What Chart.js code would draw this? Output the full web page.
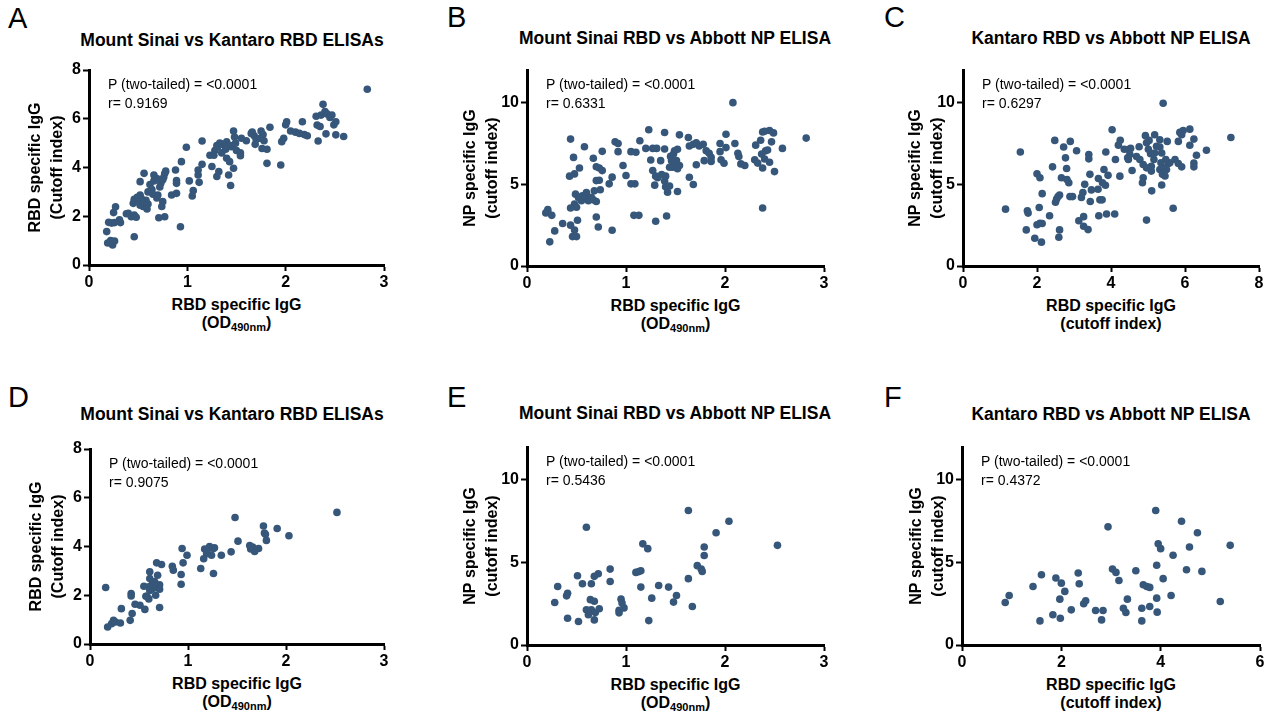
<!DOCTYPE html>
<html>
<head>
<meta charset="utf-8">
<script src="https://cdn.jsdelivr.net/npm/chart.js@4.4.0/dist/chart.umd.min.js"></script>
<style>
  body { margin: 0; background: #fff; width: 1267px; height: 722px; position: relative; overflow: hidden;
         font-family: "Liberation Sans", Arial, sans-serif; color: #000; }
  .abs { position: absolute; white-space: nowrap; }
  .letter { font-size: 29px; line-height: 29px; }
  .title { font-size: 17.5px; font-weight: bold; transform: translate(-50%, -50%); }
  .note { font-size: 14px; line-height: 19px; }
  .xt { font-size: 16px; font-weight: bold; text-align: center; transform: translateX(-50%); line-height: 18px; }
  .xt sub { font-size: 11px; vertical-align: -3px; }
  canvas { position: absolute; }
</style>
</head>
<body>
<script>
// A: Mount Sinai OD (x) vs Kantaro cutoff index (y), full cohort
const sinaiKantaroAll = [
  [0.18,1.37],[0.19,0.90],[0.22,1.00],[0.24,0.82],[0.26,0.98],[0.23,0.93],
  [0.20,1.75],[0.23,1.72],[0.26,1.74],[0.31,1.85],[0.32,1.74],[0.25,2.15],[0.27,2.39],
  [0.38,2.10],[0.40,2.12],[0.43,1.98],[0.46,2.05],[0.48,1.96],[0.46,1.16],
  [0.45,2.53],[0.46,2.70],[0.49,2.78],[0.51,2.60],[0.52,2.87],[0.53,2.75],[0.52,3.42],[0.56,3.76],
  [0.52,2.45],[0.55,2.40],[0.58,2.65],[0.60,2.50],[0.59,2.30],
  [0.60,3.00],[0.62,3.30],[0.64,3.10],[0.65,2.90],[0.66,3.45],[0.69,3.55],[0.66,3.69],
  [0.70,2.87],[0.69,2.75],[0.71,1.94],[0.77,1.98],[0.75,2.60],[0.74,2.40],
  [0.72,3.20],[0.73,3.35],[0.75,3.50],[0.76,3.60],[0.77,3.75],[0.78,3.85],
  [0.84,2.87],[0.89,2.94],[0.88,3.90],[0.89,3.46],[0.89,3.35],
  [0.93,1.57],[0.94,4.24],[0.99,4.83],[1.02,3.45],[1.06,3.05],[1.05,2.83],
  [1.11,3.90],[1.11,3.69],[1.12,3.39],[1.15,4.13],[1.15,5.09],
  [1.23,4.50],[1.27,4.50],[1.25,4.04],[1.32,3.83],[1.30,3.63],
  [1.28,4.70],[1.30,4.90],[1.33,5.00],[1.35,4.60],[1.31,4.85],
  [1.36,4.95],[1.40,5.05],[1.43,4.90],[1.45,4.85],[1.39,4.75],
  [1.40,4.38],[1.43,4.24],[1.42,3.69],[1.44,3.26],[1.47,3.97],
  [1.47,5.50],[1.48,5.25],[1.49,5.00],[1.44,4.90],[1.50,4.70],[1.54,4.60],[1.54,4.48],
  [1.55,5.20],[1.60,5.10],[1.65,5.40],[1.66,5.45],[1.68,5.30],[1.70,5.15],[1.69,4.95],
  [1.75,5.50],[1.77,5.35],[1.74,5.20],[1.78,5.10],[1.76,4.78],[1.81,4.75],
  [1.84,5.65],[1.81,4.17],[1.95,4.10],
  [1.96,5.06],[1.98,5.20],[2.00,5.75],[2.01,5.88],
  [2.05,5.50],[2.10,5.45],[2.14,5.40],[2.19,5.35],[2.22,5.30],[2.17,5.88],
  [2.32,5.74],[2.35,5.68],[2.33,5.09],
  [2.31,6.10],[2.36,6.15],[2.38,6.59],[2.40,6.30],[2.42,6.20],[2.45,6.05],[2.47,6.15],
  [2.49,5.75],[2.51,5.88],[2.41,5.38],[2.51,5.34],[2.59,5.27],[2.83,7.21]
];

// B: Mount Sinai OD (x) vs Abbott NP cutoff index (y), full cohort
const sinaiAbbottAll = [
  [2.82,7.83],[2.08,10.0],[2.38,3.55],[2.58,7.20],[2.50,5.78],
  [2.40,8.25],[2.45,8.30],[2.38,8.20],[2.49,8.15],[2.36,7.70],
  [2.31,7.40],[2.30,6.50],[2.33,6.30],[2.38,6.00],[2.40,6.55],[2.41,7.05],[2.45,6.35],[2.47,7.60],[2.43,7.10],[2.37,6.85],
  [2.10,7.50],[2.13,6.90],[2.14,6.70],[2.16,6.25],[2.20,6.15],
  [2.01,8.07],[1.99,6.29],[1.95,7.50],[1.95,7.00],[1.96,6.50],[2.01,7.25],
  [1.86,6.65],[1.86,6.40],[1.84,6.90],
  [1.79,6.45],[1.81,7.05],[1.78,7.45],[1.74,7.35],[1.71,7.55],[1.68,7.45],[1.64,7.35],
  [1.71,6.20],[1.63,7.87],[1.64,5.43],[1.68,4.99],
  [1.54,8.03],[1.48,6.85],[1.49,7.05],[1.52,7.15],[1.51,6.45],[1.49,6.25],[1.47,6.05],[1.52,5.95],[1.54,6.15],[1.44,6.05],[1.46,6.45],
  [1.52,4.56],[1.42,4.52],[1.40,4.85],[1.44,4.90],
  [1.39,8.17],[1.39,7.16],[1.40,5.50],[1.39,5.20],[1.36,5.60],[1.32,5.40],[1.30,5.50],[1.29,4.95],[1.27,5.84],
  [1.45,6.71],[1.35,6.45],[1.31,7.20],[1.27,7.20],[1.20,7.20],[1.25,6.49],[1.23,8.34],
  [1.30,2.74],[1.41,3.06],
  [1.14,7.67],[1.10,6.96],[1.05,7.00],[1.09,5.03],[1.05,5.03],[1.08,3.10],[1.13,3.10],
  [1.00,5.54],[0.97,6.15],[0.92,7.00],[0.89,7.60],[0.92,7.50],
  [0.86,5.44],[0.83,5.03],[0.86,2.19],
  [0.76,7.02],[0.76,5.84],[0.73,6.00],[0.70,6.08],[0.73,5.25],[0.70,5.23],[0.74,4.67],[0.70,3.00],[0.72,2.39],
  [0.68,4.60],[0.67,6.60],
  [0.70,3.95],[0.67,4.05],[0.65,4.20],[0.62,4.00],[0.60,4.50],[0.58,4.20],[0.56,4.30],[0.55,4.00],[0.52,4.20],[0.49,4.40],[0.48,3.80],[0.50,3.60],[0.53,4.20],
  [0.58,7.30],[0.53,6.00],[0.48,5.64],[0.43,5.50],[0.44,7.77],[0.47,6.65],[0.44,3.55],
  [0.51,2.80],[0.44,2.50],[0.48,2.20],[0.46,1.80],[0.50,1.80],
  [0.36,2.60],[0.28,2.15],[0.23,1.48],[0.19,3.25],[0.21,3.30],[0.25,3.10],[0.21,3.45]
];

// C: Kantaro cutoff index (x) vs Abbott NP cutoff index (y), full cohort
const kantaroAbbottAll = [
  [1.15,3.48],[1.55,6.98],[1.71,2.21],[1.74,3.38],[1.76,3.24],[1.94,1.70],[2.00,5.65],[2.08,5.40],
  [2.06,3.58],[2.00,2.53],[2.08,2.61],[2.14,2.60],[2.12,1.46],[2.14,4.43],[2.34,3.08],[2.42,6.07],
  [2.48,7.69],[2.50,3.90],[2.53,4.10],[2.57,4.25],[2.61,4.35],[2.61,2.21],[2.59,1.76],[2.66,5.40],
  [2.72,7.29],[2.77,6.62],[2.80,5.97],[2.81,5.30],[2.86,5.10],[2.89,4.25],[2.96,4.25],[2.90,7.63],
  [3.07,7.06],[3.13,2.77],[3.20,4.20],[3.24,4.50],[3.29,5.00],[3.26,3.02],[3.26,2.43],[3.38,2.23],
  [3.40,6.82],[3.40,6.56],[3.43,5.61],[3.44,3.95],[3.47,4.66],[3.65,4.70],[3.66,5.36],[3.77,5.10],
  [3.70,4.05],[3.76,4.05],[3.67,3.08],[3.81,5.91],[3.85,4.94],[3.88,3.18],[3.86,6.98],[3.92,5.55],
  [4.03,8.34],[4.10,3.18],[4.12,6.52],[4.20,7.40],[4.25,7.70],[4.24,5.50],[4.36,7.15],[4.47,7.13],
  [4.53,7.20],[4.51,6.82],[4.47,6.52],[4.45,6.62],[4.57,5.85],[4.69,6.70],[4.76,7.30],[4.85,5.10],
  [4.87,5.40],[4.93,7.98],[4.96,7.55],[5.03,7.69],[5.01,7.15],[5.07,6.88],[5.10,4.60],[5.09,6.11],
  [5.09,5.81],[5.16,6.52],[5.18,6.92],[5.23,7.33],[5.18,8.04],[5.32,7.73],[5.32,7.29],[5.37,6.92],
  [5.35,6.32],[5.32,5.91],[5.43,6.01],[5.39,5.61],[5.46,5.51],[5.50,5.91],[5.55,6.28],[5.48,6.52],
  [5.52,7.63],[5.59,6.32],[5.73,6.52],[5.82,6.28],[5.91,6.07],[5.37,4.96],[5.82,7.63],[5.91,8.04],
  [5.95,8.30],[6.13,8.38],[5.86,8.18],[4.78,6.52],[4.87,6.21],[4.96,6.01],[6.24,6.30],[6.24,6.07],
  [6.24,7.77],[6.13,7.39],[6.31,6.78],[6.58,7.09],[7.24,7.87],[5.41,9.96],[5.68,3.54],[4.96,2.81]
];

// D: Mount Sinai OD vs Kantaro cutoff index, subset
const sinaiKantaroSub = [
  [2.52,5.40],[2.03,4.44],[1.91,4.74],[1.77,4.84],[1.78,4.55],[1.79,4.50],[1.80,4.25],[1.72,3.92],
  [1.68,3.80],[1.66,3.98],[1.63,4.04],[1.64,3.90],[1.51,4.22],[1.48,5.19],[1.44,3.78],[1.34,3.64],
  [1.27,3.95],[1.24,3.64],[1.22,4.00],[1.17,3.90],[1.16,3.50],[1.19,3.70],[1.21,3.92],[1.26,3.92],
  [1.26,2.89],[1.13,3.10],[0.99,3.64],[0.94,3.92],[0.95,3.33],[0.84,3.19],[0.85,3.03],[0.93,2.85],[0.93,2.45],
  [0.73,3.26],[0.68,3.33],[0.69,2.82],[0.71,2.43],[0.65,2.55],[0.68,2.35],[0.71,2.25],[0.67,2.00],
  [0.63,2.42],[0.61,2.69],[0.66,2.55],[0.64,2.28],[0.60,2.35],[0.61,2.20],[0.58,1.96],[0.60,1.85],[0.71,1.50],
  [0.61,2.96],[0.55,2.37],[0.57,1.96],[0.56,1.42],[0.51,1.59],[0.46,1.63],[0.42,2.07],[0.42,1.97],
  [0.43,1.25],[0.41,0.97],[0.32,1.45],[0.31,0.86],[0.26,0.90],[0.24,0.97],[0.22,0.83],[0.18,0.70],[0.16,2.32]
];

// E: Mount Sinai OD vs Abbott NP cutoff index, subset
const sinaiAbbottSub = [
  [2.53,6.04],[2.04,7.50],[1.91,6.80],[1.63,8.15],[1.79,5.94],[1.79,5.42],[1.72,4.81],[1.76,4.60],
  [1.77,4.46],[1.63,4.02],[1.67,2.33],[1.51,3.00],[1.48,2.60],[1.43,3.51],[1.33,3.61],[1.26,2.84],
  [1.23,1.48],[1.22,5.84],[1.17,6.13],[1.10,4.40],[1.13,4.45],[1.15,4.50],[1.15,3.51],[0.98,2.25],
  [0.96,2.55],[0.95,2.78],[0.93,2.10],[0.93,1.95],[0.84,4.60],[0.84,3.85],[0.72,4.32],[0.68,4.16],
  [0.65,3.71],[0.60,7.14],[0.73,2.20],[0.68,2.65],[0.64,2.75],[0.65,2.13],[0.60,2.13],[0.62,1.83],
  [0.68,1.52],[0.69,1.97],[0.56,3.71],[0.51,4.20],[0.52,1.42],[0.41,3.14],[0.40,2.98],[0.41,1.62],
  [0.31,3.55],[0.28,2.58]
];

// F: Kantaro cutoff index vs Abbott NP cutoff index, subset
const kantaroAbbottSub = [
  [5.40,6.04],[5.20,2.64],[4.83,4.46],[4.74,6.80],[4.58,5.94],[4.52,4.56],[4.42,7.50],[4.25,5.44],
  [4.21,3.00],[4.05,4.02],[4.00,5.84],[3.95,6.13],[3.92,4.83],[3.90,8.15],[3.92,2.84],[3.93,1.99],
  [3.78,2.33],[3.78,3.49],[3.72,3.55],[3.65,3.65],[3.62,2.23],[3.62,1.46],[3.50,4.50],[3.33,2.78],
  [3.30,1.97],[3.25,2.23],[3.16,3.91],[3.10,4.40],[3.03,4.60],[2.94,7.16],[2.84,2.09],[2.69,2.09],
  [2.81,1.52],[2.49,2.68],[2.45,2.50],[2.36,3.71],[2.34,4.36],[2.20,2.13],[2.07,3.25],[2.00,3.75],
  [1.97,2.78],[1.98,1.62],[1.89,4.06],[1.83,1.83],[1.60,4.26],[1.57,1.46],[1.43,3.55],[0.95,3.00],[0.87,2.58]
];

const titles = [
  "Mount Sinai vs Kantaro RBD ELISAs",
  "Mount Sinai RBD vs Abbott NP ELISA",
  "Kantaro RBD vs Abbott NP ELISA",
];
const rValues = ["0.9169", "0.6331", "0.6297", "0.9075", "0.5436", "0.4372"];
const pText = "P (two-tailed) = <0.0001";
const kantaroY = ["RBD specific IgG", "(Cutoff index)"];
const npY = ["NP specific IgG", "(cutoff index)"];
const odX = 'RBD specific IgG<br>(OD<sub>490nm</sub>)';
const cutoffX = 'RBD specific IgG<br>(cutoff index)';

const FONT = '"Liberation Sans", Arial, sans-serif';
const DOT = "#36577a";

const panels = [
  { letter: "A", data: sinaiKantaroAll, title: titles[0], r: rValues[0], yTitle: kantaroY, xTitle: odX,
    x0: 89, x1: 384, yTop: 70, yBot: 265, xMax: 3, xStep: 1, yMax: 8, yStep: 2, yOff: 54,
    titleX: 232, titleY: 40, lx: 8, ly: 4 },
  { letter: "B", data: sinaiAbbottAll, title: titles[1], r: rValues[1], yTitle: npY, xTitle: odX,
    x0: 527, x1: 824, yTop: 70, yBot: 266, xMax: 3, xStep: 1, yMax: 12, yStep: 5, yOff: 57,
    titleX: 675, titleY: 38, lx: 447, ly: 3 },
  { letter: "C", data: kantaroAbbottAll, title: titles[2], r: rValues[2], yTitle: npY, xTitle: cutoffX,
    x0: 963, x1: 1259, yTop: 70, yBot: 266, xMax: 8, xStep: 2, yMax: 12, yStep: 5, yOff: 48,
    titleX: 1111, titleY: 38, lx: 884, ly: 3 },
  { letter: "D", data: sinaiKantaroSub, title: titles[0], r: rValues[3], yTitle: kantaroY, xTitle: odX,
    x0: 90, x1: 384, yTop: 449, yBot: 644, xMax: 3, xStep: 1, yMax: 8, yStep: 2, yOff: 54,
    titleX: 232, titleY: 414, lx: 8, ly: 383 },
  { letter: "E", data: sinaiAbbottSub, title: titles[1], r: rValues[4], yTitle: npY, xTitle: odX,
    x0: 527, x1: 824, yTop: 447, yBot: 645, xMax: 3, xStep: 1, yMax: 12, yStep: 5, yOff: 57,
    titleX: 675, titleY: 413, lx: 447, ly: 383 },
  { letter: "F", data: kantaroAbbottSub, title: titles[2], r: rValues[5], yTitle: npY, xTitle: cutoffX,
    x0: 962, x1: 1260, yTop: 447, yBot: 645, xMax: 6, xStep: 2, yMax: 12, yStep: 5, yOff: 46,
    titleX: 1111, titleY: 414, lx: 884, ly: 383 },
];

function addText(cls, html, left, top) {
  const el = document.createElement("div");
  el.className = "abs " + cls;
  el.innerHTML = html;
  el.style.left = left + "px";
  el.style.top = top + "px";
  document.body.appendChild(el);
}

function makePanel(p) {
  const W = 75, padTop = 12, padRight = 8, xH = 28;
  const left = p.x0 - W, top = p.yTop - padTop;
  const cv = document.createElement("canvas");
  cv.width = p.x1 + padRight - left;
  cv.height = p.yBot + xH - top;
  cv.style.left = left + "px";
  cv.style.top = top + "px";
  document.body.appendChild(cv);

  const tickFont = { family: FONT, size: 16, weight: "bold" };
  const grid = { drawOnChartArea: false, drawTicks: true, tickLength: 6, tickWidth: 2, tickColor: "#000" };
  const border = { display: true, color: "#000", width: 3 };

  new Chart(cv, {
    type: "scatter",
    data: {
      datasets: [{
        data: p.data.map(([x, y]) => ({ x, y })),
        backgroundColor: DOT,
        borderWidth: 0,
        pointRadius: 3.8,
        pointHoverRadius: 3.8,
      }],
    },
    options: {
      responsive: false,
      animation: false,
      events: [],
      layout: { padding: { top: padTop, right: padRight, left: 0, bottom: 0 } },
      plugins: { legend: { display: false }, tooltip: { enabled: false } },
      scales: {
        x: {
          type: "linear", min: 0, max: p.xMax,
          afterFit: (s) => { s.height = xH; },
          ticks: { stepSize: p.xStep, includeBounds: false, padding: 2, color: "#000", font: tickFont, maxRotation: 0 },
          grid, border,
        },
        y: {
          type: "linear", min: 0, max: p.yMax,
          afterFit: (s) => { s.width = W; },
          ticks: { stepSize: p.yStep, includeBounds: false, padding: 2, color: "#000", font: tickFont },
          grid, border,
          title: {
            display: true, text: p.yTitle, color: "#000",
            font: { family: FONT, size: 16, weight: "bold", lineHeight: 1.4 },
            padding: { top: W - p.yOff - 11, bottom: 0 },
          },
        },
      },
    },
  });

  addText("letter", p.letter, p.lx, p.ly);
  addText("title", p.title, p.titleX, p.titleY);
  addText("note", pText + "<br>r= " + p.r, p.x0 + 19, p.yTop + 5);
  addText("xt", p.xTitle, (p.x0 + p.x1) / 2, p.yBot + 31);
}

panels.forEach(makePanel);
</script>
</body>
</html>
